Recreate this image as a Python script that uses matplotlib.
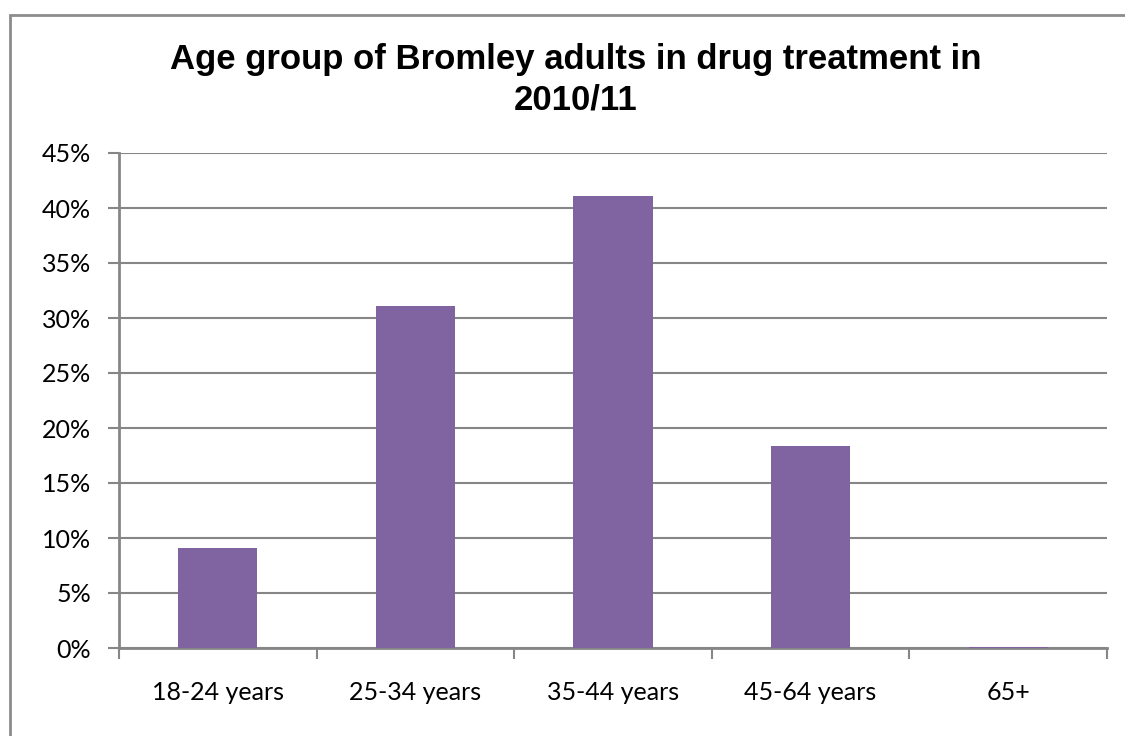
import matplotlib
matplotlib.use("Agg")
import matplotlib.pyplot as plt
from matplotlib.patches import Rectangle
from matplotlib.ticker import FixedLocator

categories = ["18-24 years", "25-34 years", "35-44 years", "45-64 years", "65+"]
percentages = [9.1, 31.1, 41.1, 18.4, 0.1]
y_ticks = [0, 5, 10, 15, 20, 25, 30, 35, 40, 45]
y_tick_labels = [f"{v}%" for v in y_ticks]
title_text = "Age group of Bromley adults in drug treatment in\n2010/11"

bar_color = "#8064A2"
axis_gray = "#868686"
label_font = ["Lato", "DejaVu Sans"]

fig = plt.figure(figsize=(11.25, 7.36), dpi=100)
fig.patch.set_facecolor("white")

# outer chart frame
fig.patches.append(Rectangle((10 / 1125, -0.05), 1.2, 1 - 15 / 736 + 0.05,
                             transform=fig.transFigure, fill=False,
                             edgecolor="#8c8c8c", linewidth=2, zorder=0))

ax = fig.add_axes([119 / 1125, 1 - 648 / 736, (1107 - 119) / 1125, (648 - 153) / 736])

x = range(len(categories))
ax.bar(x, percentages, width=0.4, color=bar_color, zorder=5)

ax.set_xlim(-0.5, len(categories) - 0.5)
ax.set_ylim(0, 45)

ax.set_yticks(y_ticks)
ax.set_yticklabels(y_tick_labels, fontfamily=label_font, fontsize=18)
ax.set_xticks(list(x))
ax.set_xticklabels(categories, fontfamily=label_font, fontsize=18)
ax.xaxis.set_minor_locator(FixedLocator([i - 0.5 for i in range(len(categories) + 1)]))

ax.tick_params(axis="x", which="major", length=0, pad=24)
ax.tick_params(axis="x", which="minor", length=8, width=1.5, color=axis_gray, direction="out")
ax.tick_params(axis="y", length=8, width=1.5, color=axis_gray, pad=12)

ax.grid(axis="y", color=axis_gray, linewidth=1.5, zorder=1)
ax.set_axisbelow(True)

for side in ["top", "right"]:
    ax.spines[side].set_visible(False)
for side in ["left", "bottom"]:
    ax.spines[side].set_color(axis_gray)
    ax.spines[side].set_linewidth(2)
    ax.spines[side].set_zorder(4)

fig.text(0.5116, 1 - 109 / 736, title_text, ha="center", va="baseline",
         multialignment="center",
         fontfamily=["Liberation Sans", "DejaVu Sans"], fontweight="bold",
         fontsize=25, linespacing=1.28)

fig.savefig("out.png", dpi=100, facecolor="white")
